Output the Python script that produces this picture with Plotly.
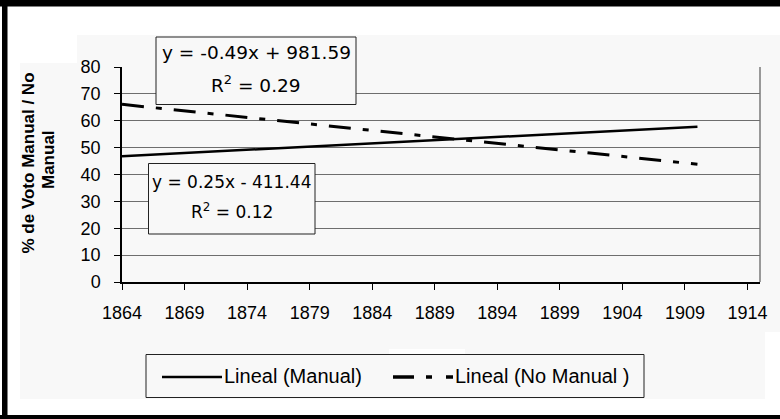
import plotly.graph_objects as go

# ---- data ----
years = [1864, 1910]
manual_trend = [46.8, 57.8]        # Lineal (Manual)
no_manual_trend = [66.1, 43.8]     # Lineal (No Manual )
x_ticks = list(range(1864, 1915, 5))
y_ticks = list(range(0, 81, 10))
eq_no_manual = ["y = -0.49x + 981.59", "R<sup>2</sup> = 0.29"]
eq_manual = ["y = 0.25x - 411.44", "R<sup>2</sup> = 0.12"]
legend_labels = ["Lineal (Manual)", "Lineal (No Manual )"]
y_title = ["% de Voto Manual / No", "Manual"]

W, H = 780, 419
L, R, T, B = 122, 760, 67, 282
BG = "#f8f8f8"
FONT = "DejaVu Sans"
ARIAL = "Liberation Sans, Arial, sans-serif"
DASH = "22px,12px,6px,12px"


def px(x):
    return (x - L) / (R - L)


def py(y):
    return (B - y) / (B - T)


fig = go.Figure()
fig.add_trace(go.Scatter(x=years, y=manual_trend, mode="lines",
                         line=dict(color="black", width=2.5),
                         name=legend_labels[0], showlegend=False))
fig.add_trace(go.Scatter(x=years, y=no_manual_trend, mode="lines",
                         line=dict(color="black", width=3, dash=DASH),
                         name=legend_labels[1], showlegend=False))

shapes = []
# light grey chart background (irregular union)
shapes.append(dict(type="rect", xref="paper", yref="paper", layer="below",
                   x0=px(77), x1=px(780), y0=py(332), y1=py(35),
                   fillcolor=BG, line=dict(width=0)))
shapes.append(dict(type="rect", xref="paper", yref="paper", layer="below",
                   x0=px(20), x1=px(765), y0=py(399), y1=py(63),
                   fillcolor=BG, line=dict(width=0)))
shapes.append(dict(type="rect", xref="paper", yref="paper", layer="below",
                   x0=px(389), x1=px(465), y0=py(356), y1=py(349),
                   fillcolor="white", line=dict(width=0)))
# outer black frame
for (x0, x1, y0, y1) in [(0, 780, 0, 6.5), (2, 7.5, 0, 419), (0, 780, 415, 419)]:
    shapes.append(dict(type="rect", xref="paper", yref="paper", layer="above",
                       x0=px(x0), x1=px(x1), y0=py(y1), y1=py(y0),
                       fillcolor="black", line=dict(width=0)))
# right border of plot area
shapes.append(dict(type="line", xref="paper", yref="paper", layer="below",
                   x0=1, x1=1, y0=0, y1=1, line=dict(color="#7a7a7a", width=1.5)))
# equation boxes
shapes.append(dict(type="rect", xref="paper", yref="paper", layer="above",
                   x0=px(156), x1=px(356), y0=py(104.5), y1=py(37),
                   fillcolor=BG, line=dict(color="#222", width=1)))
shapes.append(dict(type="rect", xref="paper", yref="paper", layer="above",
                   x0=px(148.5), x1=px(315), y0=py(234), y1=py(163.5),
                   fillcolor=BG, line=dict(color="#222", width=1)))
# legend box and samples
shapes.append(dict(type="rect", xref="paper", yref="paper", layer="above",
                   x0=px(146), x1=px(644), y0=py(397.5), y1=py(354.5),
                   fillcolor=BG, line=dict(color="#222", width=1)))
shapes.append(dict(type="line", xref="paper", yref="paper", layer="above",
                   x0=px(162), x1=px(222), y0=py(377), y1=py(377),
                   line=dict(color="black", width=2.5)))
shapes.append(dict(type="line", xref="paper", yref="paper", layer="above",
                   x0=px(393), x1=px(453), y0=py(377), y1=py(377),
                   line=dict(color="black", width=3.5, dash="21px,12px,6px,14px")))

annotations = []


def add_text(text, x, y, size, family, xanchor="center", angle=0, bold=False):
    annotations.append(dict(text=text, x=px(x), y=py(y), xref="paper", yref="paper",
                            xanchor=xanchor, yanchor="middle", showarrow=False,
                            textangle=angle,
                            font=dict(family=family, size=size, color="black",
                                      weight="bold" if bold else "normal")))


add_text(eq_no_manual[0], 256, 53, 18.5, FONT)
add_text(eq_no_manual[1], 256, 84, 18.5, FONT)
add_text(eq_manual[0], 231.5, 182, 17, FONT)
add_text(eq_manual[1], 231.5, 211, 17, FONT)
add_text(legend_labels[0], 222, 376, 20, ARIAL, xanchor="left")
add_text(legend_labels[1], 453, 376, 20, ARIAL, xanchor="left")
add_text(y_title[0], 28, 163.5, 17, ARIAL, angle=-90, bold=True)
add_text(y_title[1], 48, 160, 17, ARIAL, angle=-90, bold=True)

fig.update_layout(
    width=W, height=H,
    margin=dict(l=L, r=W - R, t=T, b=H - B, pad=0),
    paper_bgcolor="white", plot_bgcolor=BG,
    showlegend=False,
    shapes=shapes, annotations=annotations,
    font=dict(family=ARIAL, color="black"),
)
fig.update_xaxes(range=[1864, 1915], tickmode="array", tickvals=x_ticks,
                 ticktext=[str(v) for v in x_ticks],
                 showgrid=False, zeroline=False, showline=True,
                 linecolor="black", linewidth=1.5,
                 ticks="outside", ticklen=6, tickcolor="black", tickwidth=1.2,
                 tickfont=dict(family=ARIAL, size=18, color="black"),
                 ticklabelstandoff=8)
fig.update_yaxes(range=[0, 80], tickmode="array", tickvals=y_ticks,
                 ticktext=[str(v) for v in y_ticks],
                 showgrid=True, gridcolor="#6e6e6e", gridwidth=1,
                 zeroline=False, showline=True,
                 linecolor="black", linewidth=1.5,
                 ticks="outside", ticklen=6, tickcolor="black", tickwidth=1.2,
                 tickfont=dict(family=ARIAL, size=18, color="black"),
                 ticklabelstandoff=10)

fig.write_html("out.html", config={"displayModeBar": False},
               post_script="document.body.style.margin='0';"
                           "document.body.style.padding='0';")
